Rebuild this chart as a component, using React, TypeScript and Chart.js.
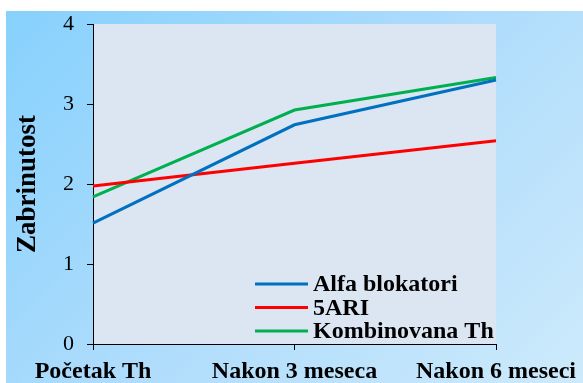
import React, { useEffect, useRef } from "react";
import { Chart, registerables } from "chart.js";

Chart.register(...registerables);

const categories = ["Početak Th", "Nakon 3 meseca", "Nakon 6 meseci"];
const alfaBlokatori = [1.51, 2.74, 3.3];
const ari5 = [1.975, 2.26, 2.54];
const kombinovana = [1.84, 2.925, 3.33];
const yTicks = [0, 1, 2, 3, 4];

const FONT = "'Liberation Serif', 'Times New Roman', serif";

const plotBg = {
  id: "plotBg",
  beforeDraw(chart: any) {
    const { ctx, chartArea } = chart;
    ctx.save();
    ctx.fillStyle = "#dce6f2";
    ctx.fillRect(chartArea.left, chartArea.top, chartArea.right - chartArea.left, chartArea.bottom - chartArea.top);
    ctx.restore();
  },
};

const innerLegend = {
  id: "innerLegend",
  afterDraw(chart: any) {
    const { ctx } = chart;
    const ds = chart.data.datasets;
    ctx.save();
    ctx.font = `bold 24px ${FONT}`;
    ctx.textBaseline = "middle";
    ctx.textAlign = "left";
    ds.forEach((d: any, i: number) => {
      const y = 273 + i * 23.5;
      ctx.strokeStyle = d.borderColor;
      ctx.lineWidth = 3;
      ctx.beginPath();
      ctx.moveTo(249, y);
      ctx.lineTo(302, y);
      ctx.stroke();
      ctx.fillStyle = "#000";
      ctx.fillText(d.label, 307, y + 1);
    });
    ctx.restore();
  },
};

export default function App() {
  const ref = useRef<HTMLCanvasElement>(null);
  useEffect(() => {
    if (!ref.current) return;
    const chart = new Chart(ref.current, {
      type: "line",
      data: {
        labels: categories,
        datasets: [
          { label: "Alfa blokatori", data: alfaBlokatori, borderColor: "#0070c0", backgroundColor: "#0070c0", borderWidth: 3, pointRadius: 0, tension: 0 },
          { label: "5ARI", data: ari5, borderColor: "#ff0000", backgroundColor: "#ff0000", borderWidth: 3, pointRadius: 0, tension: 0 },
          { label: "Kombinovana Th", data: kombinovana, borderColor: "#00b050", backgroundColor: "#00b050", borderWidth: 3, pointRadius: 0, tension: 0 },
        ],
      },
      options: {
        animation: false,
        responsive: false,
        maintainAspectRatio: false,
        layout: { padding: { left: 0, right: 82, top: 13, bottom: 0 } },
        plugins: { legend: { display: false }, tooltip: { enabled: false } },
        scales: {
          x: {
            offset: false,
            grid: { drawOnChartArea: false, color: "#000", tickLength: 6 },
            border: { color: "#000", width: 1 },
            ticks: { color: "#000", font: { family: FONT, size: 24, weight: "bold" }, padding: 7, maxRotation: 0, autoSkip: false },
            afterFit: (s: any) => { s.height = 39; },
          },
          y: {
            min: 0,
            max: 4,
            afterBuildTicks: (s: any) => { s.ticks = yTicks.map((v) => ({ value: v })); },
            grid: { drawOnChartArea: false, color: "#000", tickLength: 6 },
            border: { color: "#000", width: 1 },
            ticks: { color: "#000", font: { family: FONT, size: 22 }, padding: 13 },
            title: { display: true, text: "Zabrinutost", color: "#000", font: { family: FONT, size: 27, weight: "bold" }, padding: { top: 6, bottom: 0 } },
            afterFit: (s: any) => { s.width = 87; s.paddingTop = 0; s.paddingBottom = 0; },
          },
        },
      },
      plugins: [plotBg, innerLegend],
    });
    return () => chart.destroy();
  }, []);
  return (
    <div
      style={{
        position: "fixed",
        left: 6,
        top: 11,
        width: 577,
        height: 372,
        background: "linear-gradient(135deg, #86d1fd 0%, #aedcfc 50%, #cdeafb 100%)",
      }}
    >
      <canvas ref={ref} width={577} height={372} style={{ display: "block", width: 577, height: 372 }} />
    </div>
  );
}
